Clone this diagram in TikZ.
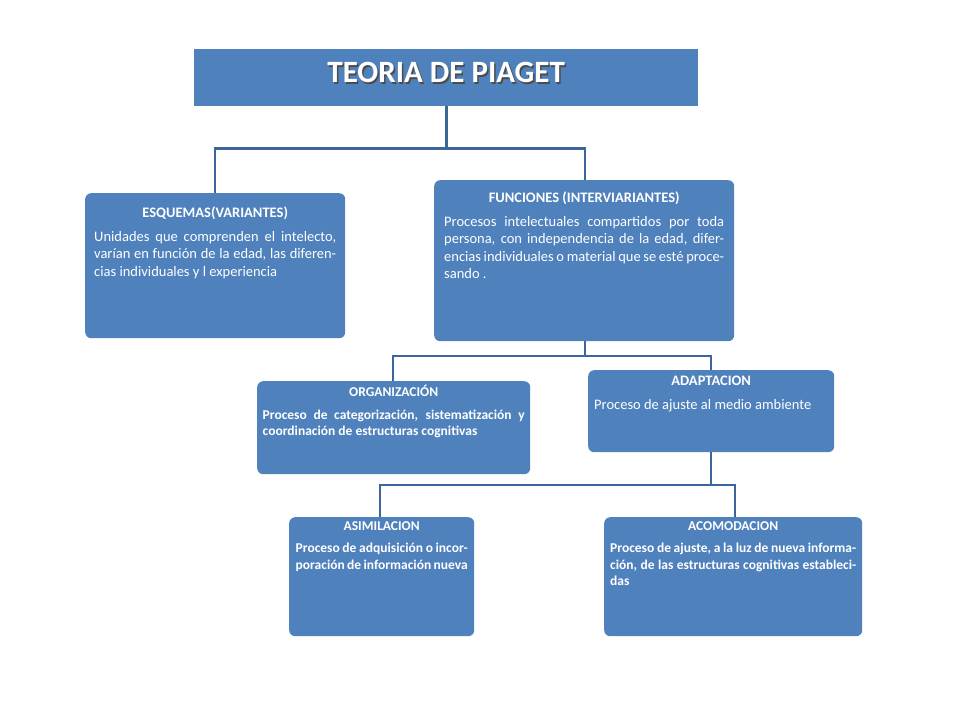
\documentclass[tikz,border=0pt]{standalone}
\usepackage{fontspec}
\setmainfont{Carlito}
\usetikzlibrary{positioning,calc}
\definecolor{boxblue}{HTML}{4F81BD}
\definecolor{lineblue}{HTML}{3C659A}
\tikzset{
  box/.style={fill=boxblue,draw=none,rounded corners=6pt,anchor=north west,inner sep=0pt},
  txt/.style={text=white,anchor=north,inner sep=0pt,align=justify,font=\fontsize{14.5}{17.5}\selectfont},
  link/.style={draw=lineblue,line width=2.6pt},
}
\newcommand{\boxhead}[1]{{\centering\bfseries #1\par}\vspace{6pt}}
\begin{document}
\begin{tikzpicture}[x=1pt,y=-1pt]
\useasboundingbox (0,0) rectangle (960,720);

% title
\node (title) [box,rounded corners=0pt,minimum width=504pt,minimum height=57pt] at (194,49) {};
\node (titleshadow) [text=black!70,font=\fontsize{31}{31}\selectfont\bfseries] at ($(title.center)+(1.5,-3.5)$) {TEORIA DE PIAGET};
\node (titletext) [text=white,font=\fontsize{31}{31}\selectfont\bfseries] at ($(title.center)+(0,-5)$) {TEORIA DE PIAGET};

% boxes
\node (esq) [box,minimum width=260pt,minimum height=145pt] at (85,193) {};
\node (fun) [box,minimum width=300pt,minimum height=161pt] at (434,180) {};
\node (org) [box,minimum width=273pt,minimum height=93pt] at (257,381) {};
\node (ada) [box,minimum width=246pt,minimum height=82pt] at (588,370) {};
\node (asi) [box,minimum width=185pt,minimum height=119pt] at (289,517) {};
\node (aco) [box,minimum width=258pt,minimum height=119pt] at (604,517) {};

% texts
\node (esqtext) [txt,text width=242pt] at ($(esq.north)+(0,14)$)
  {\boxhead{ESQUEMAS(VARIANTES)}Unidades que comprenden el intelecto, varían en función de la edad, las diferencias individuales y l experiencia};
\node (funtext) [txt,text width=280pt] at ($(fun.north)+(0,12)$)
  {\boxhead{FUNCIONES (INTERVIARIANTES)}Procesos intelectuales compartidos por toda persona, con independencia de la edad, diferencias individuales o material que se esté procesando .};
\node (orgtext) [txt,text width=262pt,font=\fontsize{13.5}{16.5}\selectfont\bfseries] at ($(org.north)+(0,4)$)
  {\boxhead{ORGANIZACIÓN}Proceso de categorización, sistematización y coordinación de estructuras cognitivas};
\node (adatext) [txt,text width=234pt] at ($(ada.north)+(0,6)$)
  {\boxhead{ADAPTACION}Proceso de ajuste al medio ambiente};
\node (asitext) [txt,text width=172pt,font=\fontsize{13.5}{16.5}\selectfont\bfseries] at ($(asi.north)+(0,4)$)
  {\boxhead{ASIMILACION}Proceso de adquisición o incorporación de información nueva};
\node (acotext) [txt,text width=246pt,font=\fontsize{13.5}{16.5}\selectfont\bfseries] at ($(aco.north)+(0,4)$)
  {\boxhead{ACOMODACION}Proceso de ajuste, a la luz de nueva información, de las estructuras cognitivas establecidas};

% connectors
\coordinate (j1) at ($(title.south)+(0,42)$);
\draw[link] (title.south) -- (j1);
\draw[link] (esq.north -| 215,0) |- (j1) -| (fun.north -| 585,0);
\coordinate (j2) at (585,356);
\draw[link] (fun.south -| j2) -- (j2);
\draw[link] (org.north -| 393,0) |- (j2) -| (ada.north -| 711,0);
\coordinate (j3) at (711,485);
\draw[link] (ada.south -| j3) -- (j3);
\draw[link] (asi.north -| 380,0) |- (j3) -| (aco.north -| 735,0);
\end{tikzpicture}
\end{document}
